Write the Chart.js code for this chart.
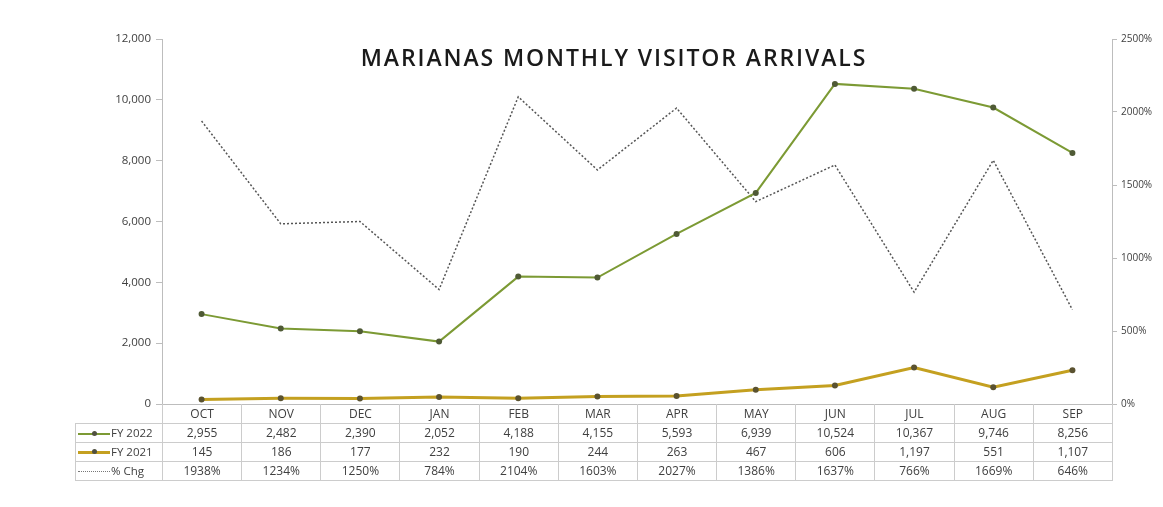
<!DOCTYPE html>
<html>
<head>
<meta charset="utf-8">
<script src="https://cdn.jsdelivr.net/npm/chart.js@4"></script>
<style>
  html, body { margin: 0; padding: 0; background: #fff; }
  body { width: 1163px; height: 507px; position: relative; overflow: hidden; font-family: "Open Sans", sans-serif; }
  #wrap { position: absolute; left: 0; top: 0; width: 1163px; height: 507px; }
  #title { position: absolute; left: 0; width: 1228px; top: 41px; text-align: center; font: 600 23px "Open Sans", sans-serif; letter-spacing: 1.9px; color: #1a1a1a; }
  #dataTable { position: absolute; border-collapse: collapse; table-layout: fixed; font: 12px "Open Sans", sans-serif; color: #404040; }
  #dataTable td { border: 1px solid #cccccc; text-align: center; height: 18px; padding: 0; box-sizing: border-box; overflow: hidden; }
  #dataTable td.lbl { text-align: left; padding-left: 2px; white-space: nowrap; font-size: 11.5px; }
  #dataTable tr.head td { border-top: none; }
  #dataTable tr.head td.blank { border: none; }
  .key { display: inline-block; width: 32px; height: 2px; vertical-align: middle; position: relative; margin-right: 1px; }
  .key i { position: absolute; left: 14px; top: -2px; width: 5px; height: 5px; background: #505040; border-radius: 50%; }
</style>
</head>
<body>
<div id="wrap"><canvas id="chart" width="1163" height="507"></canvas></div>
<div id="title">MARIANAS MONTHLY VISITOR ARRIVALS</div>
<table id="dataTable"></table>
<script>
const months = ['OCT', 'NOV', 'DEC', 'JAN', 'FEB', 'MAR', 'APR', 'MAY', 'JUN', 'JUL', 'AUG', 'SEP'];
const fy2022 = [2955, 2482, 2390, 2052, 4188, 4155, 5593, 6939, 10524, 10367, 9746, 8256];
const fy2021 = [145, 186, 177, 232, 190, 244, 263, 467, 606, 1197, 551, 1107];
const pctChg = [1938, 1234, 1250, 784, 2104, 1603, 2027, 1386, 1637, 766, 1669, 646];
const leftTicks = [0, 2000, 4000, 6000, 8000, 10000, 12000];
const rightTicks = [0, 500, 1000, 1500, 2000, 2500];

const green = '#7c9a34';
const gold = '#c4a020';

const ctx = document.getElementById('chart').getContext('2d');
const chart = new Chart(ctx, {
    type: 'line',
    data: {
        labels: months,
        datasets: [
            {
                label: 'FY 2022', data: fy2022, yAxisID: 'y',
                borderColor: green, borderWidth: 2,
                pointRadius: 3, pointBackgroundColor: '#4f5a35', pointBorderWidth: 0,
                tension: 0
            },
            {
                label: 'FY 2021', data: fy2021, yAxisID: 'y',
                borderColor: gold, borderWidth: 3,
                pointRadius: 3, pointBackgroundColor: '#5a5230', pointBorderWidth: 0,
                tension: 0
            },
            {
                label: '% Chg', data: pctChg, yAxisID: 'y1',
                borderColor: '#555555', borderWidth: 1.5, borderDash: [2, 2],
                pointRadius: 0, tension: 0
            }
        ]
    },
    options: {
        responsive: false,
        animation: false,
        layout: { padding: { left: 0, right: 0, top: 39, bottom: 103 } },
        plugins: { legend: { display: false }, tooltip: { enabled: false }, title: { display: false } },
        scales: {
            x: {
                offset: true,
                grid: { display: false, drawTicks: false },
                border: { color: '#bdbdbd', width: 1 },
                ticks: { display: false }
            },
            y: {
                position: 'left',
                min: 0, max: 12000,
                afterBuildTicks: axis => { axis.ticks = leftTicks.map(v => ({ value: v })); },
                afterFit: axis => { axis.width = 162; },
                grid: { display: true, drawOnChartArea: false, drawTicks: true, tickLength: 6, color: '#bdbdbd' },
                border: { color: '#bdbdbd', width: 1 },
                ticks: {
                    color: '#404040', font: { family: 'Open Sans', size: 11.5 }, padding: 5,
                    callback: v => v.toLocaleString('en-US')
                }
            },
            y1: {
                position: 'right',
                min: 0, max: 2500,
                afterBuildTicks: axis => { axis.ticks = rightTicks.map(v => ({ value: v })); },
                afterFit: axis => { axis.width = 51; },
                grid: { display: true, drawOnChartArea: false, drawTicks: true, tickLength: 5, color: '#bdbdbd' },
                border: { color: '#bdbdbd', width: 1 },
                ticks: {
                    color: '#404040', font: { family: 'Open Sans', size: 10 }, padding: 4,
                    callback: v => v + '%'
                }
            }
        }
    }
});

// data table under the plot, lined up with the category columns
function buildTable() {
    const xs = chart.scales.x;
    const colW = (xs.right - xs.left) / months.length;
    const table = document.getElementById('dataTable');
    const labelW = 87;
    table.style.left = (xs.left - labelW) + 'px';
    table.style.top = (chart.chartArea.bottom) + 'px';
    table.style.width = (labelW + colW * months.length) + 'px';
    const fmt = v => v.toLocaleString('en-US');
    const rows = [
        { cls: 'head', label: '', cells: months },
        { label: '<span class="key" style="background:' + green + '"><i></i></span>FY 2022', cells: fy2022.map(fmt) },
        { label: '<span class="key" style="background:' + gold + ';height:3px"><i></i></span>FY 2021', cells: fy2021.map(fmt) },
        { label: '<span class="key" style="border-top:1.5px dotted #777;height:0;background:none"></span>% Chg', cells: pctChg.map(v => v + '%') }
    ];
    let html = '<colgroup><col style="width:' + labelW + 'px">';
    months.forEach(() => { html += '<col style="width:' + colW + 'px">'; });
    html += '</colgroup>';
    rows.forEach(r => {
        html += '<tr class="' + (r.cls || '') + '" style="height:19px">';
        html += '<td class="lbl' + (r.cls ? ' blank' : '') + '">' + r.label + '</td>';
        r.cells.forEach(c => { html += '<td>' + c + '</td>'; });
        html += '</tr>';
    });
    table.innerHTML = html;
}
buildTable();
</script>
</body>
</html>
